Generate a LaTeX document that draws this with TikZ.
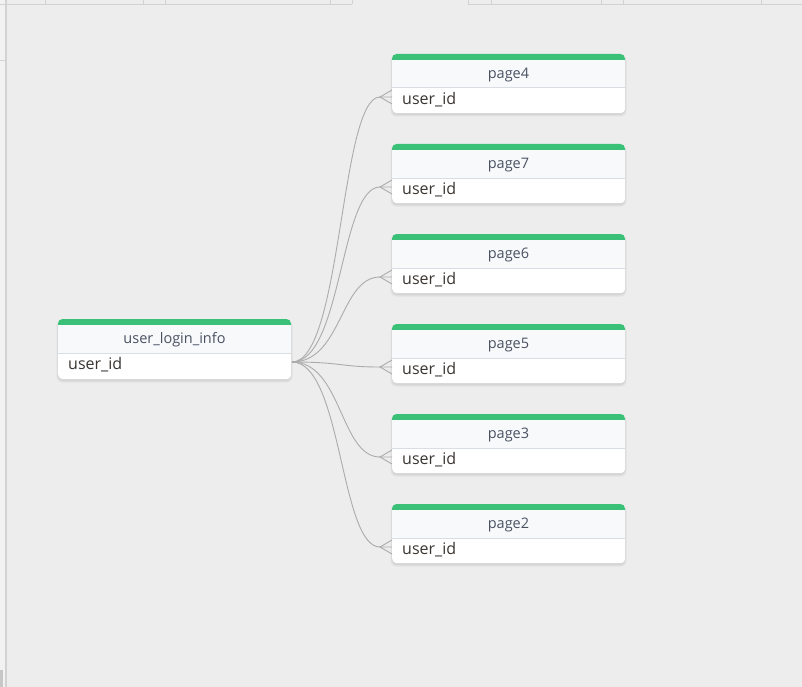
\documentclass[tikz,border=0pt]{standalone}
\usepackage{fontspec}
\setmainfont{Open Sans}
\usetikzlibrary{calc}
\definecolor{bg}{HTML}{EDEDED}
\definecolor{uiline}{HTML}{D2D2D2}
\definecolor{uistrip}{HTML}{F2F2F2}
\definecolor{topgreen}{HTML}{3BC077}
\definecolor{headfill}{HTML}{F7F9FB}
\definecolor{divider}{HTML}{D9DDE4}
\definecolor{titletext}{HTML}{4A5262}
\definecolor{rowtext}{HTML}{3A3530}
\definecolor{conncol}{HTML}{ABABAB}
\tikzset{
  tblbox/.style={draw=none, fill=white, rounded corners=4.5pt, minimum width=233pt, inner sep=0pt},
  shadowfill/.style={fill=black, opacity=0.05, rounded corners=6pt},
  titlelbl/.style={font=\fontsize{14.5}{16}\selectfont, text=titletext, inner sep=0pt, anchor=base},
  rowlbl/.style={font=\fontsize{16}{18}\selectfont, text=rowtext, inner sep=0pt, anchor=base west},
  conn/.style={draw=conncol, line width=0.9pt},
}
% #1 name, #2 left x, #3 top y, #4 height, #5 title
\newcommand{\erbox}[5]{%
  \fill[shadowfill] (#2-1.5,#3+1) rectangle (#2+234.5,#3+#4+3.5);
  \fill[shadowfill] (#2-0.5,#3+1) rectangle (#2+233.5,#3+#4+2);
  \node[tblbox, minimum height=#4pt, anchor=north west] (#1) at (#2,#3) {};
  \fill[topgreen, rounded corners=4.5pt] (#2,#3) rectangle ++(233,10);
  \fill[headfill] (#2,#3+6) rectangle ++(233,28);
  \draw[divider, line width=1pt] (#2,#3+34) -- ++(233,0);
  \node[titlelbl] (#1-title) at (#2+116.5,#3+24.5) {#5};
  \node[rowlbl] (#1-row) at (#2+10,#3+50.5) {user\_id};
}
\begin{document}
\begin{tikzpicture}[x=1pt,y=-1pt]
\useasboundingbox (0,0) rectangle (802,687);
\fill[bg] (0,0) rectangle (802,687);
% UI chrome
\fill[uistrip] (0,0) rectangle (5,687);
\draw[uiline, line width=1.6pt] (6,0) -- (6,687);
\draw[uiline, line width=0.8pt] (0,4) -- (352,4);
\draw[uiline, line width=0.8pt] (468,4) -- (802,4);
\foreach \x in {45,143,165,330,352,468,491,601,623,761}
  \draw[uiline, line width=0.8pt] (\x,0) -- (\x,4);
\draw[uiline, line width=0.8pt] (0,60) -- (5,60);
\fill[black!22] (0,670) rectangle (3,687);
% tables
\erbox{main}{58}{319}{60}{user\_login\_info}
\erbox{p4}{392}{54}{59}{page4}
\erbox{p7}{392}{144}{59}{page7}
\erbox{p6}{392}{234}{59}{page6}
\erbox{p5}{392}{324}{59}{page5}
\erbox{p3}{392}{414}{59}{page3}
\erbox{p2}{392}{504}{59}{page2}
% connectors
\coordinate (s) at (292,362);
\foreach \n/\t in {p4/54,p7/144,p6/234,p5/324,p3/414,p2/504}{
  \coordinate (\n-in) at (392,\t+43);
  \coordinate (\n-foot) at (380,\t+43);
  \draw[conn] (s) .. controls +(50,0) and +(-40,0) .. (\n-foot) -- (\n-in);
  \draw[conn] ($(\n-in)+(0,-7)$) -- (\n-foot) -- ($(\n-in)+(0,7)$);
}
\end{tikzpicture}
\end{document}
